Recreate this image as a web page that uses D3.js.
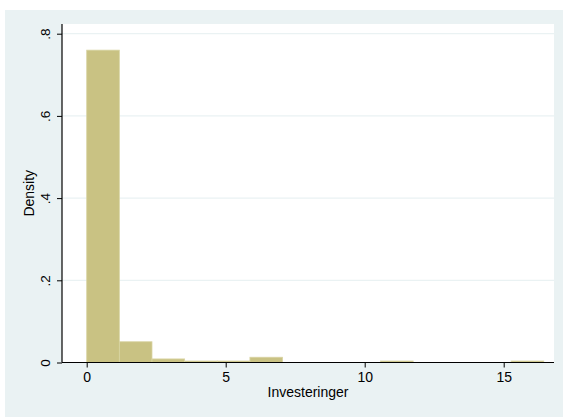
<!DOCTYPE html>
<html>
<head>
<meta charset="utf-8">
<script src="https://cdn.jsdelivr.net/npm/d3@7"></script>
<style>
  html, body { margin: 0; padding: 0; background: #ffffff; }
  svg { display: block; font-family: "Liberation Sans", Arial, sans-serif; }
</style>
</head>
<body>
<svg id="chart" width="563" height="417"></svg>
<script>
// Histogram of investments: density per bin
const binStart = 0;
const binWidth = 1.1743;
const densities = [0.760, 0.0505, 0.0087, 0.0036, 0.0036, 0.0128, 0, 0, 0, 0.0036, 0, 0, 0, 0.0036];
const xTicks = [0, 5, 10, 15];
const yTicks = [0, 0.2, 0.4, 0.6, 0.8];
const yTickLabels = ["0", ".2", ".4", ".6", ".8"];
const xTitle = "Investeringer";
const yTitle = "Density";

const bins = densities.map((d, i) => ({
  x0: binStart + i * binWidth,
  x1: binStart + (i + 1) * binWidth,
  density: d
}));

const svg = d3.select("#chart");
const W = 563, H = 417;
const plot = { left: 62, right: 554, top: 24, bottom: 362.5 };

// outer graph region
svg.append("rect")
  .attr("x", 5).attr("y", 10)
  .attr("width", W - 5).attr("height", H - 10)
  .attr("fill", "#eaf2f3");

// plot region
svg.append("rect")
  .attr("x", plot.left).attr("y", plot.top)
  .attr("width", plot.right - plot.left).attr("height", plot.bottom - plot.top)
  .attr("fill", "#ffffff");

const x = d3.scaleLinear().domain([0, 5]).range([86.7, 225.7]);
const y = d3.scaleLinear().domain([0, 0.8]).range([plot.bottom, 33.7]);

// grid lines
svg.append("g")
  .selectAll("line")
  .data(yTicks.filter(t => t > 0))
  .join("line")
  .attr("x1", plot.left).attr("x2", plot.right)
  .attr("y1", d => y(d)).attr("y2", d => y(d))
  .attr("stroke", "#eaf2f3").attr("stroke-width", 1.2);

// bars
svg.append("g")
  .selectAll("rect")
  .data(bins.filter(b => b.density > 0))
  .join("rect")
  .attr("x", d => x(d.x0))
  .attr("width", d => x(d.x1) - x(d.x0))
  .attr("y", d => y(d.density))
  .attr("height", d => y(0) - y(d.density))
  .attr("fill", "#c9c283")
  .attr("stroke", "#d9d4a3")
  .attr("stroke-width", 0.8);

// y axis
const yAxis = d3.axisLeft(y)
  .tickValues(yTicks)
  .tickFormat((d, i) => yTickLabels[i])
  .tickSizeOuter(0)
  .tickSize(5)
  .tickPadding(6);
const gy = svg.append("g")
  .attr("transform", `translate(${plot.left},0)`)
  .call(yAxis);
gy.select(".domain").attr("stroke", "#000").attr("stroke-width", 1.2)
  .attr("d", `M0,${plot.top}V${plot.bottom}`);
gy.selectAll(".tick line").attr("stroke", "#000");
gy.selectAll(".tick text")
  .attr("font-size", 13.5)
  .attr("fill", "#000")
  .attr("text-anchor", "middle")
  .attr("x", null).attr("dy", null)
  .attr("transform", "translate(-16,0) rotate(-90)")
  .attr("dominant-baseline", "middle");

// x axis
const xAxis = d3.axisBottom(x)
  .tickValues(xTicks)
  .tickFormat(d3.format("d"))
  .tickSizeOuter(0)
  .tickSize(5)
  .tickPadding(5);
const gx = svg.append("g")
  .attr("transform", `translate(0,${plot.bottom})`)
  .call(xAxis);
gx.select(".domain").attr("stroke", "#000").attr("stroke-width", 1.2)
  .attr("d", `M${plot.left},0H${plot.right}`);
gx.selectAll(".tick line").attr("stroke", "#000");
gx.selectAll(".tick text").attr("font-size", 14).attr("fill", "#000");

// axis titles
svg.append("text")
  .attr("x", (plot.left + plot.right) / 2)
  .attr("y", 397)
  .attr("text-anchor", "middle")
  .attr("font-size", 14)
  .attr("fill", "#000")
  .text(xTitle);

svg.append("text")
  .attr("transform", `translate(33.5,${(plot.top + plot.bottom) / 2}) rotate(-90)`)
  .attr("text-anchor", "middle")
  .attr("font-size", 14)
  .attr("fill", "#000")
  .text(yTitle);
</script>
</body>
</html>
